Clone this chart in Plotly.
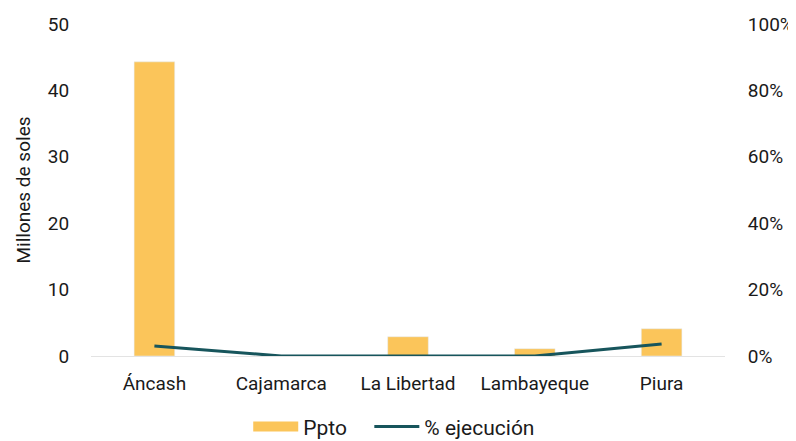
import plotly.graph_objects as go

categorias = ["Áncash", "Cajamarca", "La Libertad", "Lambayeque", "Piura"]
ppto = [44.3, 0.0, 2.9, 1.1, 4.1]
ejecucion = [3.0, 0.0, 0.0, 0.0, 3.6]

FONT = "Roboto"
YELLOW = "#FBC55A"
TEAL = "#17555C"
fig = go.Figure()
fig.add_trace(go.Bar(x=categorias, y=ppto, name="Ppto", marker_color=YELLOW,
                     width=0.32, yaxis="y", showlegend=False))
# legend proxy for bars (wide rectangle)
fig.add_trace(go.Scatter(x=[None], y=[None], name="Ppto", mode="lines",
                         line=dict(color=YELLOW, width=12), yaxis="y", legend="legend"))
fig.add_trace(go.Scatter(x=categorias, y=ejecucion, name="% ejecución", mode="lines",
                         line=dict(color=TEAL, width=3), yaxis="y2", legend="legend2"))

leg_common = dict(orientation="h", yref="container", y=0.05, yanchor="middle",
                  font=dict(size=21), itemwidth=45, xanchor="left")

fig.update_layout(
    width=796, height=441,
    margin=dict(l=83, r=79, t=16, b=93),
    plot_bgcolor="white", paper_bgcolor="white",
    font=dict(family=FONT, size=19, color="#1a1a1a"),
    xaxis=dict(showgrid=False, showline=True, linecolor="#e3e3e3", linewidth=1,
               automargin=False,
               ticks="outside", ticklen=10, tickcolor="white", tickfont=dict(size=19)),
    yaxis=dict(range=[0, 50], dtick=10, showgrid=False, zeroline=False,
               automargin=False,
               title=dict(text="Millones de soles", font=dict(size=19), standoff=12),
               ticks="outside", ticklen=17, tickcolor="white"),
    yaxis2=dict(range=[0, 100], dtick=20, overlaying="y", side="right",
                automargin=False,
                showgrid=False, zeroline=False, ticksuffix="%",
                ticks="outside", ticklen=18, tickcolor="white"),
    legend=dict(x=0.248, **leg_common),
    legend2=dict(x=0.439, **leg_common),
)
fig.write_html("out.html")
